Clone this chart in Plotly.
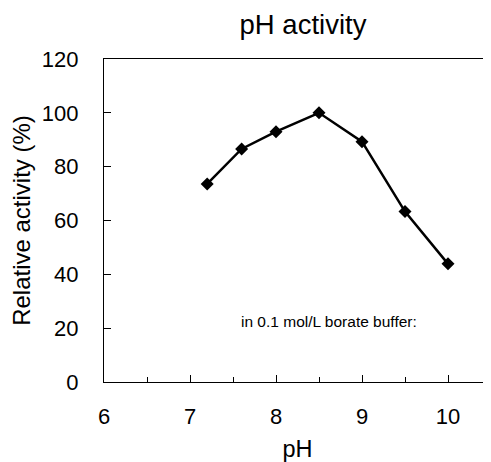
import plotly.graph_objects as go

ph = [7.2, 7.6, 8.0, 8.5, 9.0, 9.5, 10.0]
activity = [73.6, 86.6, 93.0, 100.0, 89.3, 63.3, 43.9]
x_ticks = [6, 7, 8, 9, 10]
x_minor = [6.5, 7.5, 8.5, 9.5]
y_ticks = [0, 20, 40, 60, 80, 100, 120]

font = "Liberation Sans, Arial, sans-serif"

# page body has an 8px default margin, so size the figure to fit the window
W, H = 483, 454

fig = go.Figure()
fig.add_trace(go.Scatter(
    x=ph, y=activity, mode="lines+markers",
    line=dict(color="black", width=2.5),
    marker=dict(symbol="diamond", size=10, color="black"),
    showlegend=False,
))

fig.add_annotation(
    x=8.62, y=22.3, xref="x", yref="y", text="in 0.1 mol/L borate buffer:",
    showarrow=False, font=dict(family=font, size=15.5, color="black"),
)

fig.update_layout(
    width=W, height=H,
    margin=dict(l=96, r=0, t=51, b=80),
    paper_bgcolor="white", plot_bgcolor="white",
    title=dict(text="pH activity", x=295 / W, xanchor="center", y=1 - 16 / H, yanchor="middle",
               font=dict(family=font, size=27.5, color="black")),
    font=dict(family=font, color="black"),
)

fig.update_xaxes(
    range=[6, 10.5], tickvals=x_ticks, ticks="inside", ticklen=7, tickwidth=1,
    tickcolor="black", showline=True, linecolor="black", linewidth=1.2, mirror=True,
    showgrid=False, zeroline=False,
    tickfont=dict(family=font, size=22, color="black"), ticklabelstandoff=14,
    minor=dict(tickvals=x_minor, ticks="inside", ticklen=5, tickcolor="black", tickwidth=1),
    title=dict(text="pH", font=dict(family=font, size=23.5, color="black"), standoff=16),
)
fig.update_yaxes(
    range=[0, 120], tickvals=y_ticks, ticks="inside", ticklen=7, tickwidth=1,
    tickcolor="black", showline=True, linecolor="black", linewidth=1.2,
    showgrid=False, zeroline=False,
    tickfont=dict(family=font, size=22, color="black"), ticklabelstandoff=20,
    title=dict(text="Relative activity (%)", font=dict(family=font, size=24, color="black"), standoff=10),
)

fig.write_html("out.html")
